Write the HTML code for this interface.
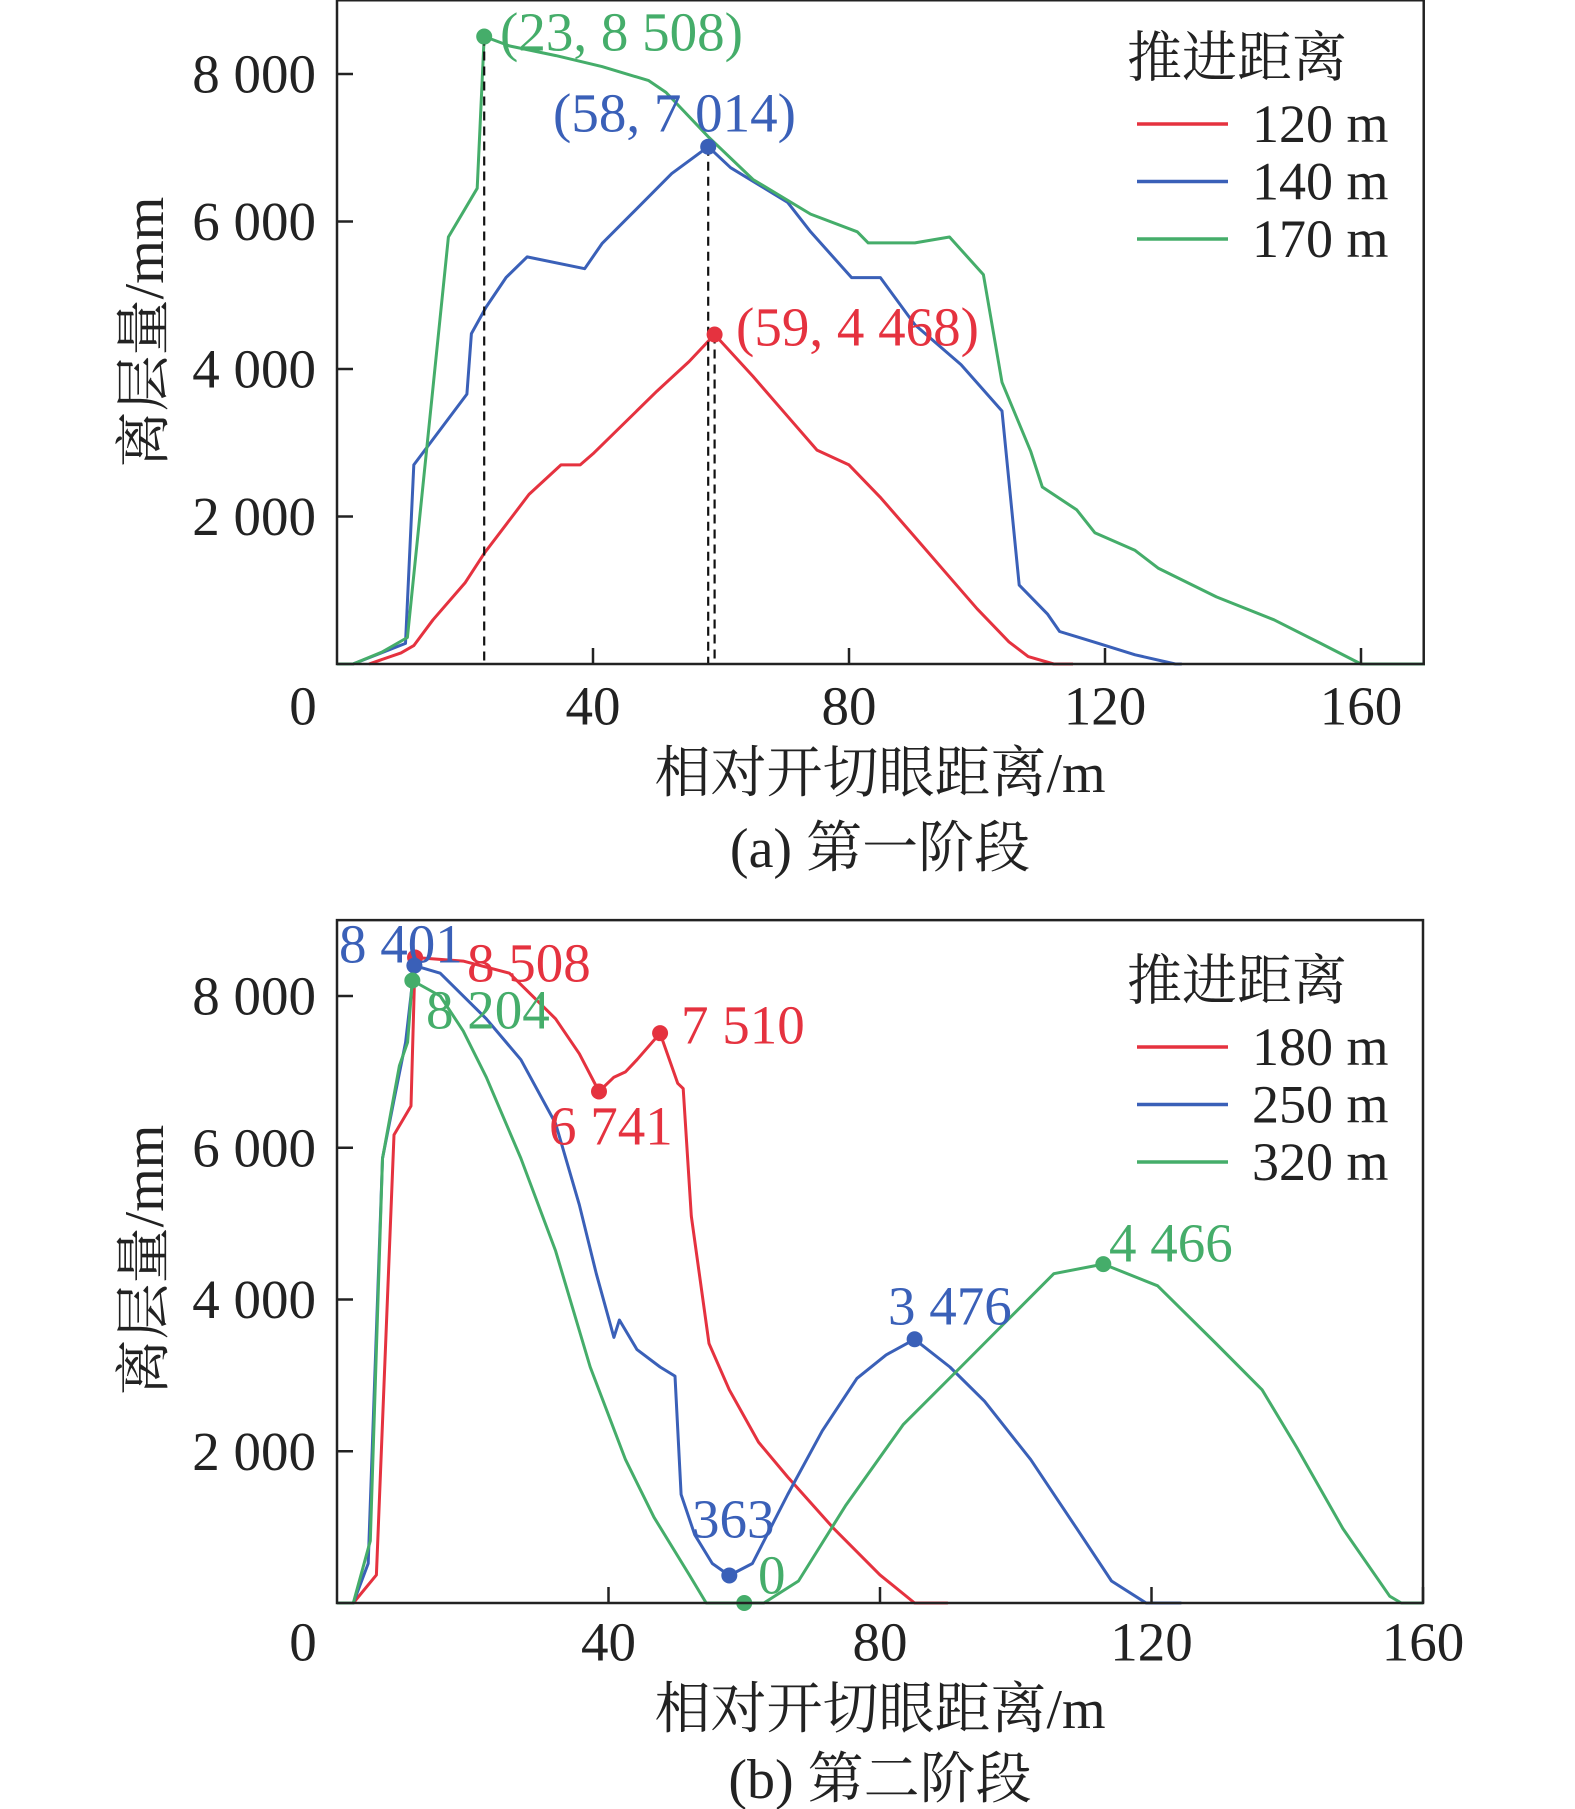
<!DOCTYPE html>
<html><head><meta charset="utf-8"><style>
html,body{margin:0;padding:0;background:#fff;}
svg{display:block;}
text{font-family:"Liberation Serif","Noto Serif CJK SC",serif;}
</style></head><body>
<svg id="svg" width="1575" height="1809" viewBox="0 0 1575 1809" xmlns="http://www.w3.org/2000/svg"></svg>
<script>
// ---- Chart (a) data ----
const aX120=[5,10,12,15,20,23,30,35,38,40,50,55,59,65,70,75,80,85,90,95,100,105,108,112,115];
const aY120=[0,150,250,600,1100,1500,2300,2700,2700,2850,3700,4100,4468,3900,3400,2900,2700,2250,1750,1250,750,300,100,0,0];
const aX140=[2.5,10.7,12,20.3,21,23.3,26.4,29.7,38.7,41.4,46,52.3,58,61.5,70.4,74,80.4,84.9,90.3,97.5,103.9,106.6,111,112.9,119,124.7,131,132];
const aY140=[0,280,2700,3660,4480,4840,5240,5520,5360,5700,6100,6650,7014,6730,6260,5860,5240,5240,4600,4060,3430,1070,680,440,280,125,0,0];
const aX170=[0,2.5,7,11,17.4,21.9,23,27,34.2,41.4,48.7,51.4,58,65,74,81.3,83,90.3,95.7,101,103.9,108.4,110.2,115.6,118.4,124.7,128.3,137.4,146.4,153.7,160,170];
const aY170=[0,0,160,360,5790,6450,8508,8380,8250,8100,7910,7750,7150,6570,6100,5860,5710,5710,5790,5280,3820,2880,2400,2090,1780,1540,1300,910,600,280,0,0];
// ---- Chart (b) data ----
const bX180=[0,2.4,5.8,8.4,10.9,11.5,18.6,25.4,27.1,32.2,35.7,38.6,40.8,42.5,44.2,47.6,50.2,51,52.2,54.8,57.8,62.1,66.4,73.2,80,85.1,90];
const bY180=[0,0,370,6170,6550,8508,8460,8300,8150,7700,7240,6741,6930,7000,7160,7510,6850,6780,5100,3420,2810,2120,1660,980,370,0,0];
const bX250=[0,2.4,4.6,6.7,8.4,10.1,11.4,15.2,22,27.1,32.2,35.7,38.2,40.8,41.6,44.2,47.6,49.8,50.7,52.7,55.3,57.8,61.2,66.4,71.5,76.6,80.9,85.1,90.3,95.4,102.2,109,114.1,119.2,124.4];
const bY250=[0,0,520,5860,6630,7390,8401,8300,7700,7160,6320,5250,4340,3500,3730,3340,3110,2990,1430,900,520,363,520,1430,2270,2960,3270,3476,3110,2660,1890,980,290,0,0];
const bX320=[0,2.4,4.9,6.7,9.2,10.4,11.1,15.2,18.6,22,27.1,32.2,37.3,42.5,46.7,51.9,54.4,60,62.9,68,74.9,83.4,91.9,98.8,105.6,112.9,120.9,129.5,136.3,141.4,148.2,155.1,156.8,160];
const bY320=[0,0,820,5860,7080,7390,8204,8000,7540,6930,5860,4640,3110,1890,1130,370,0,0,0,290,1280,2350,3110,3730,4340,4466,4180,3420,2810,2050,980,90,0,0];
const xTicks=[40,80,120,160];
const yTicks=[2000,4000,6000,8000];
const yTickLabels=["2 000","4 000","6 000","8 000"];

const NS="http://www.w3.org/2000/svg";
const svg=document.getElementById('svg');
const RED="#e5323f",BLUE="#3a60b8",GREEN="#45ad6a";
function mk(tag,attrs,parent){const e=document.createElementNS(NS,tag);for(const k in attrs)e.setAttribute(k,attrs[k]);(parent||svg).appendChild(e);return e;}
function txt(s,attrs,parent){const e=mk('text',attrs,parent);e.textContent=s;return e;}

function chart(cfg){
  const g=mk('g',{});
  
  
  const xs=v=>cfg.x0+v*cfg.xu;
  const ys=v=>cfg.y0-v*cfg.yu;
  cfg.series.forEach(s=>{
    const pts=s.xs.map((x,i)=>xs(x).toFixed(1)+','+ys(s.ys[i]).toFixed(1)).join(' ');
    const pl=mk('polyline',{points:pts,fill:'none',stroke:s.color,'stroke-width':3,'stroke-linejoin':'round'},g);
    
    
  });
  (cfg.guides||[]).forEach(d=>{
    const l=mk('line',{x1:xs(d[0]),x2:xs(d[0]),y1:ys(d[1]),y2:ys(0),stroke:'#111','stroke-width':2.2,'stroke-dasharray':'9,6'},g);
    
    
  });
  cfg.marks.forEach(m=>{
    const c=mk('circle',{cx:xs(m.x),cy:ys(m.y),r:8,fill:m.color},g);
    
    
    const t=txt(m.text,{x:m.tx,y:m.ty,fill:m.color,'font-size':55,'dominant-baseline':'central'},g);
    
    
  });
  const top=ys(9000), right=xs(cfg.xmax), bot=ys(0);
  const fr=mk('rect',{x:cfg.x0,y:top,width:right-cfg.x0,height:bot-top,fill:'none',stroke:'#222','stroke-width':2.5},g);
  
  
  xTicks.forEach(v=>{
    const l=mk('line',{x1:xs(v),x2:xs(v),y1:bot,y2:bot-16,stroke:'#222','stroke-width':2.5},g);
    
    
    const t=txt(String(v),{x:xs(v),y:cfg.tickY,'text-anchor':'middle','font-size':55,fill:'#222','dominant-baseline':'central'},g);
    
    
  });
  const z=txt('0',{x:303,y:cfg.tickY,'text-anchor':'middle','font-size':55,fill:'#222','dominant-baseline':'central'},g);
  
  
  yTicks.forEach((v,i)=>{
    const l=mk('line',{x1:cfg.x0,x2:cfg.x0+16,y1:ys(v),y2:ys(v),stroke:'#222','stroke-width':2.5},g);
    
    
    const t=txt(yTickLabels[i],{x:316,y:ys(v),'text-anchor':'end','font-size':55,fill:'#222','dominant-baseline':'central'},g);
    
    
  });
  const xt=txt('相对开切眼距离/m',{x:880,y:cfg.titleY,'text-anchor':'middle','font-size':56,fill:'#222','dominant-baseline':'central'},g);
  
  
  const yt=txt('离层量/mm',{x:0,y:0,'text-anchor':'middle','font-size':56,fill:'#222','dominant-baseline':'central',transform:'translate(145,'+cfg.yTitleY+') rotate(-90)'},g);
  
  
  const cap=txt(cfg.caption,{x:880,y:cfg.capY,'text-anchor':'middle','font-size':56,fill:'#222','dominant-baseline':'central'},g);
  
  
  const lg=mk('g',{},g);
  
  
  const lt=txt('推进距离',{x:1127,y:cfg.legY,'font-size':55,fill:'#222','dominant-baseline':'central'},lg);
  
  
  cfg.series.forEach((s,i)=>{
    const yy=cfg.legY+66+i*57.5;
    const l=mk('line',{x1:1137,x2:1228,y1:yy,y2:yy,stroke:s.color,'stroke-width':3.5},lg);
    
    
    const t=txt(s.label,{x:1252,y:yy,'font-size':54,fill:'#222','dominant-baseline':'central'},lg);
    
    
  });
}

chart({name:'chart-stage-1',x0:337,xu:6.4,xmax:169.8,y0:664,yu:0.07375,tickY:706,titleY:774,capY:849,yTitleY:332,legY:58,caption:'(a) 第一阶段',
  series:[{xs:aX120,ys:aY120,color:RED,label:'120 m'},{xs:aX140,ys:aY140,color:BLUE,label:'140 m'},{xs:aX170,ys:aY170,color:GREEN,label:'170 m'}],
  guides:[[23,8508],[58,7014],[59,4468]],
  marks:[{x:23,y:8508,color:GREEN,text:'(23, 8 508)',tx:500,ty:32},
         {x:58,y:7014,color:BLUE,text:'(58,  7 014)',tx:553,ty:113},
         {x:59,y:4468,color:RED,text:'(59, 4 468)',tx:736,ty:327}]});

chart({name:'chart-stage-2',x0:337,xu:6.7875,xmax:160,y0:1603,yu:0.075875,tickY:1642,titleY:1710,capY:1780,yTitleY:1260,legY:981,caption:'(b) 第二阶段',
  series:[{xs:bX180,ys:bY180,color:RED,label:'180 m'},{xs:bX250,ys:bY250,color:BLUE,label:'250 m'},{xs:bX320,ys:bY320,color:GREEN,label:'320 m'}],
  guides:[],
  marks:[{x:11.5,y:8508,color:RED,text:'8 508',tx:467,ty:963},
         {x:11.4,y:8401,color:BLUE,text:'8 401',tx:339,ty:944},
         {x:11.1,y:8204,color:GREEN,text:'8 204',tx:426,ty:1010},
         {x:47.6,y:7510,color:RED,text:'7 510',tx:681,ty:1025},
         {x:38.6,y:6741,color:RED,text:'6 741',tx:549,ty:1126},
         {x:85.1,y:3476,color:BLUE,text:'3 476',tx:888,ty:1306},
         {x:112.9,y:4466,color:GREEN,text:'4 466',tx:1109,ty:1243},
         {x:57.8,y:363,color:BLUE,text:'363',tx:692,ty:1519},
         {x:60,y:0,color:GREEN,text:'0',tx:758,ty:1575}]});
</script>
</body></html>
